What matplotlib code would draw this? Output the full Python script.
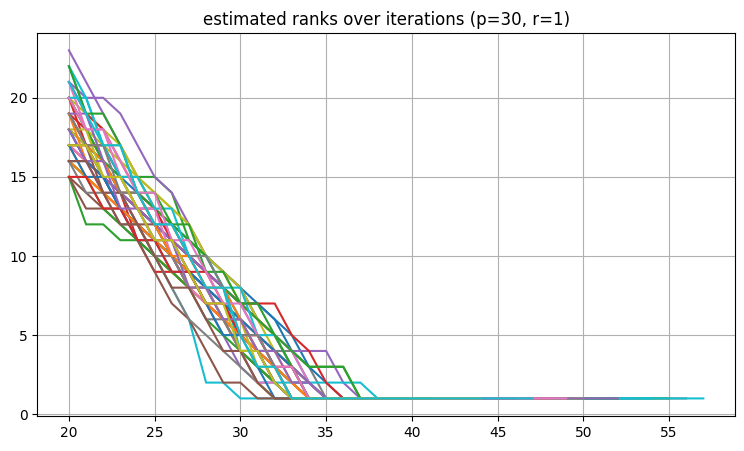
import matplotlib
matplotlib.use("Agg")
import matplotlib.pyplot as plt

start_iter = 20

# decreasing part of each run's estimated rank (from iteration 20), and last iteration of the run
ranks = [
    [16,16,15,14,13,12,11,10,9,8,7,7,6,4,2,1],
    [17,16,15,13,12,11,10,9,7,6,5,4,2,1],
    [15,12,12,11,11,10,9,8,7,6,4,3,2,1],
    [19,18,16,14,11,9,9,8,7,6,5,4,3,2,2,1],
    [23,21,19,17,15,13,11,9,7,5,3,2,1],
    [15,14,13,13,12,11,10,9,8,7,5,4,3,2,1],
    [19,17,15,13,12,11,10,9,8,7,6,4,2,1],
    [18,17,16,14,13,12,10,9,8,6,5,4,4,4,3,1],
    [20,19,18,17,15,14,13,12,10,9,7,6,4,3,2,1],
    [22,19,16,14,12,10,8,6,2,2,1],
    [18,17,16,15,14,13,12,11,10,9,8,7,6,5,3,2,1],
    [17,17,16,14,13,11,10,8,7,6,5,4,3,1],
    [20,18,16,15,15,15,14,11,10,9,8,6,5,4,3,3,3,1],
    [21,19,18,16,14,13,12,10,9,8,7,6,5,3,2,1],
    [21,20,20,19,17,15,14,12,10,9,8,6,5,4,4,4,2,1],
    [15,13,13,12,11,10,9,8,7,6,4,3,2,1],
    [18,16,14,14,12,11,11,10,9,8,7,6,5,4,2,1],
    [19,17,15,14,13,12,11,10,9,8,6,5,3,2,1],
    [20,18,17,17,15,14,13,12,10,9,8,6,5,3,2,1],
    [18,16,15,14,13,12,11,10,9,8,4,2,2,2,2,2,2,2,1],
    [16,15,14,13,12,11,10,9,8,7,6,5,4,3,2,1],
    [17,15,14,13,12,10,9,8,7,6,6,5,4,3,1],
    [16,15,13,12,11,10,9,8,6,5,4,3,2,1],
    [17,16,15,14,13,12,11,10,9,8,7,7,7,5,4,2,1],
    [16,16,15,14,13,12,11,10,9,8,7,5,4,3,2,1],
    [19,17,15,13,11,9,7,6,4,2,2,1],
    [17,16,14,13,12,11,10,8,7,6,5,4,3,2,1],
    [20,18,16,14,12,10,8,6,5,4,3,2,1],
    [18,17,17,16,15,13,12,10,8,6,4,2,1],
    [22,20,17,15,13,11,10,8,8,8,6,4,3,2,1],
    [18,16,15,13,12,11,10,9,8,7,6,5,4,3,1],
    [16,15,14,13,12,11,10,9,7,6,5,4,3,2,1],
    [20,18,16,14,14,13,12,11,10,8,7,6,5,4,3,3,3,1],
    [20,17,17,15,13,13,11,9,9,7,5,5,3,1],
    [19,19,16,14,14,12,10,10,8,6,6,4,2,1],
    [17,17,14,14,12,12,10,8,8,6,4,4,2,1],
    [21,18,18,15,13,13,10,8,8,6,4,2,2,1],
    [16,14,14,12,12,10,10,8,6,6,4,4,2,1],
    [18,18,15,15,13,11,11,8,8,6,6,3,3,1],
    [20,20,17,15,15,13,13,10,10,8,8,5,5,3,1],
    [17,15,15,13,11,11,9,9,7,5,5,3,1],
    [19,16,16,14,14,12,10,10,8,8,6,4,4,2,1],
    [22,19,19,17,14,14,12,12,9,9,7,7,5,3,1],
    [15,15,13,13,11,11,9,9,7,7,5,5,3,3,1],
    [18,16,16,13,13,11,11,8,8,6,6,4,4,2,2,1],
    [16,16,14,12,12,10,8,8,6,4,4,2,1],
    [20,18,18,16,14,14,11,11,9,7,7,5,3,3,1],
    [19,17,17,14,14,12,12,10,10,8,5,5,3,1],
    [17,17,15,15,13,11,11,9,7,7,4,4,2,1],
    [21,19,17,17,14,12,12,10,8,8,5,3,3,1],
]
last_iters = [45,42,52,47,40,44,39,56,51,48,43,46,55,41,53,44,40,50,49,57,
              42,45,38,47,43,39,44,41,46,54,40,43,52,
              41,44,39,47,42,50,45,40,48,43,46,52,38,49,41,44,47]

fig = plt.figure(figsize=(7.44, 4.51), dpi=100)
ax = fig.add_axes([0.050, 0.078, 0.938, 0.849])
for vals, last in zip(ranks, last_iters):
    n = last - start_iter + 1
    y = vals + [vals[-1]] * (n - len(vals))
    x = list(range(start_iter, last + 1))
    ax.plot(x, y)
ax.set_title("estimated ranks over iterations (p=30, r=1)")
ax.grid(True)
fig.savefig("out.png", dpi=100)
